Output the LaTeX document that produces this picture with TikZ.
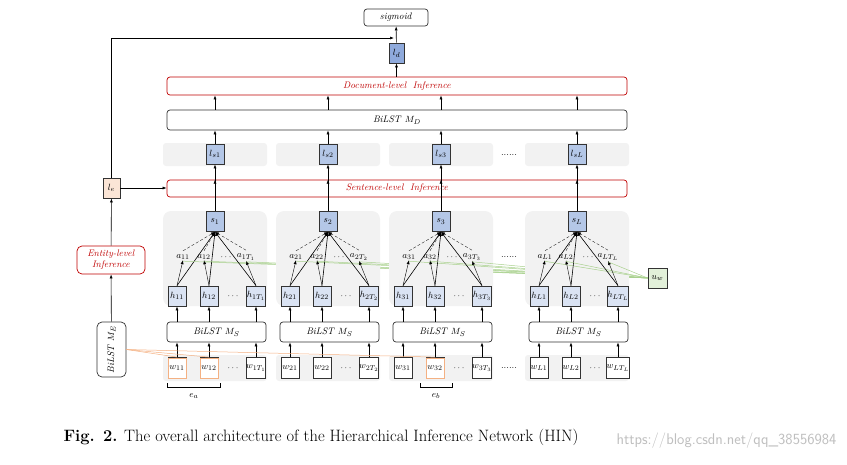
\documentclass[tikz,border=0pt]{standalone}
\usetikzlibrary{arrows.meta,decorations.pathreplacing}
\definecolor{myred}{HTML}{C00000}
\tikzset{
 every node/.style={font=\fontsize{9.5}{11}\selectfont},
 ar/.style={-{Latex[length=4pt,width=3pt]},line width=0.6pt},
 bx/.style={draw=black!80,line width=0.8pt,minimum width=18pt,minimum height=20pt,inner sep=0pt},
 sbox/.style={bx,fill={rgb,255:red,180;green,199;blue,231}},
 hbox/.style={bx,fill={rgb,255:red,218;green,227;blue,243}},
 wbox/.style={bx,fill=white,minimum height=21pt},
 ebox/.style={bx,fill=white,draw={rgb,255:red,244;green,177;blue,131}},
 long/.style={draw=black!80,line width=0.7pt,rounded corners=3pt,fill=white,inner sep=0pt},
 inf/.style={long,draw=myred,text=myred},
 grey/.style={fill=black!5,draw=none,rounded corners=8pt},
 orl/.style={draw={rgb,255:red,244;green,177;blue,131},line width=0.5pt},
 grl/.style={draw={rgb,255:red,169;green,209;blue,142},line width=0.5pt},
}
\begin{document}
\begin{tikzpicture}[x=1pt,y=-1pt]
\useasboundingbox (0,0) rectangle (847,464);
% long boxes
\node[long,minimum width=64pt,minimum height=17pt] (sig) at (396,17.5) {\textit{sigmoid}};
\node[inf,minimum width=460pt,minimum height=18pt] (doc) at (397,86) {\textit{Document-level\ \ Inference}};
\node[long,minimum width=460pt,minimum height=20pt] (md) at (397,120) {\textit{BiLST} $M_D$};
\node[inf,minimum width=460pt,minimum height=17pt] (sent) at (397,188.5) {\textit{Sentence-level\ \ Inference}};
\node[sbox,fill={rgb,255:red,143;green,170;blue,220},minimum width=15pt] (ld) at (396.5,53) {$l_d$};
\draw[ar] (doc.north -| ld) -- (ld);
\draw[ar] (ld) -- (sig);
% left part
\node[bx,fill={rgb,255:red,251;green,229;blue,214},minimum width=17pt] (le) at (111.5,188) {$l_e$};
\node[inf,minimum width=68pt,minimum height=28pt,align=center,rounded corners=5pt] (ent) at (111,260) {\textit{Entity-level}\\\textit{Inference}};
\node[long,minimum width=29pt,minimum height=55pt,rounded corners=5pt] (me) at (111.5,349.5) {};
\node[rotate=90] at (me) {\textit{BiLST} $M_E$};
\draw[ar] (me) -- (ent);
\draw[ar] (ent) -- (le);
\draw[ar] (le) -- (sent.west |- le);
\coordinate (c1) at (111.5,38);
\coordinate (c2) at (394,38);
\draw[ar] (le.north) -- (c1) -- (c2);
% u_w
\node[bx,fill={rgb,255:red,226;green,240;blue,217},minimum width=19pt] (uw) at (657.5,278) {$u_w$};
\foreach \g/\o/\T in {1/0/T_1,2/113/T_2,3/226/T_3,L/362/T_L}{
 \begin{scope}[xshift=\o pt]
 \fill[grey] (163,211) rectangle (267,306);
 \fill[grey,rounded corners=3pt] (163,355) rectangle (267,381);
 \fill[grey,rounded corners=3pt] (163,143) rectangle (267,166);
 \node[sbox] (s\g) at (215,221.5) {$s_{\g}$};
 \node[sbox] (l\g) at (215,154) {$l_{s\g}$};
 \node[hbox] (h\g1) at (177,296) {$h_{\g1}$};
 \node[hbox] (h\g2) at (209,296) {$h_{\g2}$};
 \node[hbox] (h\g3) at (256,296) {$h_{\g\T}$};
 \node at (233,296) {$\cdots$};
 \node[long,minimum width=99pt,minimum height=20pt] (ms\g) at (216.5,332) {\textit{BiLST} $M_S$};
 \node[wbox] (w\g1) at (177,368) {$w_{\g1}$};
 \node[wbox] (w\g2) at (209,368) {$w_{\g2}$};
 \node[wbox] (w\g3) at (256,368) {$w_{\g\T}$};
 \node at (233,368) {$\cdots$};
 \node (a\g1) at (183,257) {$a_{\g1}$};
 \node (a\g2) at (204,257) {$a_{\g2}$};
 \node at (226,257) {$\cdots$};
 \node (a\g3) at (246,257) {$a_{\g\T}$};
 \end{scope}
 \foreach \k in {1,2,3}{
  \draw[ar] (w\g\k) -- (w\g\k |- ms\g.south);
  \draw[ar] (ms\g.north -| h\g\k) -- (h\g\k);
  \draw[ar] (h\g\k.north) -- (s\g.south);
  \draw[ar,line width=0.4pt] (h\g\k.north) -- ([yshift=3pt]a\g\k.south);
  \draw[ar,densely dashed,line width=0.3pt] (a\g\k.north) -- (s\g.south);
  \draw[grl] (uw.west) -- ([yshift=2pt]a\g\k.south);
 }
 \draw[ar] (s\g) -- (s\g |- sent.north);
 \draw[ar] (sent.south -| l\g) -- (l\g);
 \draw[ar] (l\g) -- (l\g |- md.south);
 \draw[ar] (md.north -| l\g) -- (l\g |- doc.south);
}
\node at (509,257) {......};
\node at (509,368) {......};
\node at (509,155) {......};
% entity words
\foreach \n in {w11,w12,w32}{
 \node[ebox] at (\n) {};
 \draw[orl] (\n.north) -- (me.east);
}
\node at (w11) {$w_{11}$};
\node at (w12) {$w_{12}$};
\node at (w32) {$w_{32}$};
\draw[line width=0.5pt] (167,383) -- (167,387) -- (220,387) -- (220,383);
\node at (194,396) {$e_a$};
\draw[line width=0.5pt] (420,383) -- (420,387) -- (452,387) -- (452,383);
\node at (436,396) {$e_b$};
\node[anchor=west,font=\fontsize{16.5}{19}\selectfont] at (60,437) {\textbf{Fig. 2.} The overall architecture of the Hierarchical Inference Network (HIN)};
\node[anchor=east,font=\fontsize{15.5}{18}\selectfont\sffamily,text=black!25] at (840,441) {https://blog.csdn.net/qq\_38556984};
\end{tikzpicture}
\end{document}
